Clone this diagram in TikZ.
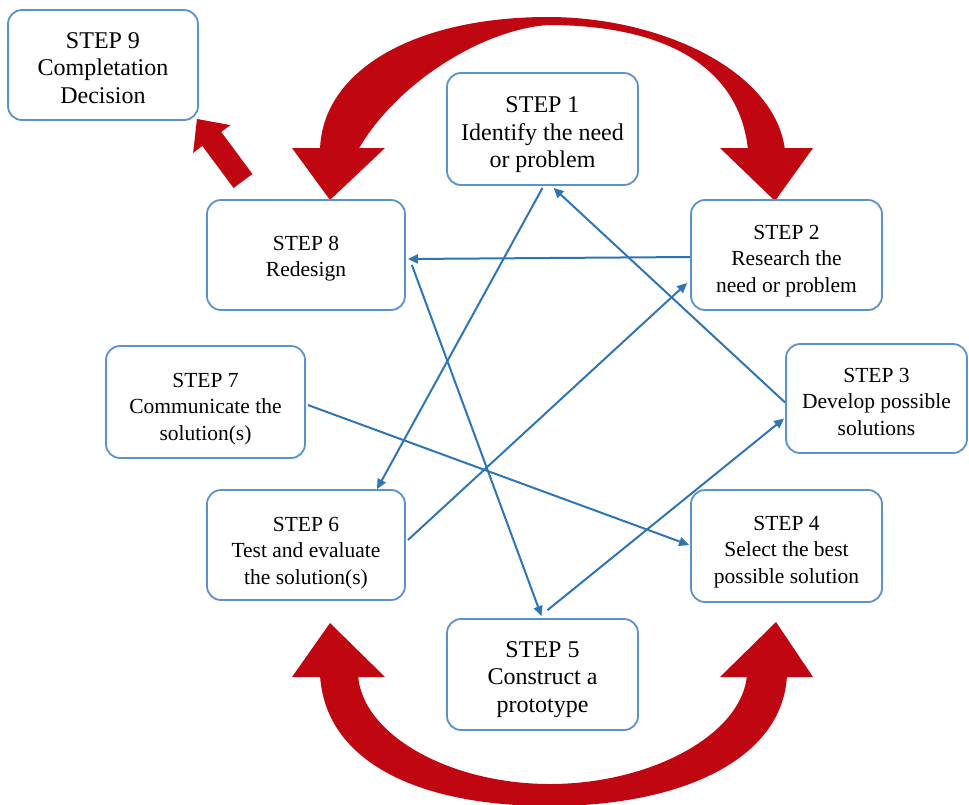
\documentclass[tikz,border=0pt]{standalone}
\usepackage{fontspec}
\setmainfont{Liberation Serif}
\usetikzlibrary{arrows.meta,calc}
\definecolor{boxblue}{RGB}{91,146,206}
\definecolor{arrblue}{RGB}{46,117,182}
\definecolor{redc}{RGB}{192,6,16}
\newcommand{\tup}[1]{\rule{0pt}{#1pt}}
\tikzset{
  stepbox/.style={rectangle, rounded corners=14pt, draw=boxblue, line width=1.8pt, fill=white,
    align=center, inner sep=0pt, font=\fontsize{21.5}{26.5}\selectfont},
  bigtext/.style={font=\fontsize{24}{27.5}\selectfont},
  link/.style={draw=arrblue, line width=2pt, -{Triangle[length=10pt,width=9pt]}},
}
\begin{document}
\begin{tikzpicture}[x=1pt,y=-1pt]
\useasboundingbox (0,0) rectangle (969,804);
\clip (0,0) rectangle (969,804);

% top red arc
\fill[redc] (320,150) .. controls (322,70) and (415,17) .. (548,17)
  .. controls (660,17) and (775,70) .. (785,150) -- (748,150)
  .. controls (740,70) and (670,25) .. (548,25)
  .. controls (480,30) and (395,85) .. (358,150) -- cycle;
\fill[redc] (292,148) -- (385,148) -- (330,200) -- cycle;
\fill[redc] (720,148) -- (813,148) -- (775,201) -- cycle;

% bottom red arc
\fill[redc] (320,675) .. controls (325,760) and (415,806) .. (550,806)
  .. controls (680,806) and (783,760) .. (787,675) -- (747,675)
  .. controls (742,735) and (650,784) .. (550,784)
  .. controls (450,784) and (362,735) .. (358,675) -- cycle;
\fill[redc] (292,677) -- (385,677) -- (330,623) -- cycle;
\fill[redc] (720,677) -- (813,677) -- (776,622) -- cycle;

% boxes
\node[stepbox, bigtext, minimum width=190pt, minimum height=110pt] (S9) at (103,65) {\tup{22}STEP 9\\Completation\\Decision};
\node[stepbox, bigtext, minimum width=191pt, minimum height=112pt] (S1) at (542.5,129) {\tup{28}STEP 1\\Identify the need\\or problem};
\node[stepbox, minimum width=198pt, minimum height=110pt] (S8) at (306,255) {\tup{22}STEP 8\\Redesign};
\node[stepbox, minimum width=191pt, minimum height=110pt] (S2) at (786.5,255) {\tup{26}STEP 2\\Research the\\need or problem};
\node[stepbox, minimum width=199pt, minimum height=112pt] (S7) at (205.5,402) {\tup{28}STEP 7\\Communicate the\\solution(s)};
\node[stepbox, minimum width=181pt, minimum height=109pt] (S3) at (876.5,398.5) {\tup{21}STEP 3\\Develop possible\\solutions};
\node[stepbox, minimum width=198pt, minimum height=110pt] (S6) at (306,545) {\tup{30}STEP 6\\Test and evaluate\\the solution(s)};
\node[stepbox, minimum width=191pt, minimum height=112pt] (S4) at (786.5,546) {\tup{26}STEP 4\\Select the best\\possible solution};
\node[stepbox, bigtext, minimum width=191pt, minimum height=111pt] (S5) at (542.5,674.5) {\tup{26}STEP 5\\Construct a\\prototype};

% small red arrow to step 9
\coordinate (r9) at (243,181);
\draw[redc, line width=23.5pt, -{Triangle[length=25pt,width=45pt]}] (r9) -- ($(S9.south east)+(-2,-2)$);

% blue connectors
\draw[link] ($(S2.west)+(0,2)$) -- ($(S8.east)+(2,4)$);
\draw[link] ($(S3.west)+(0,4)$) -- ($(S1.south)+(11,2)$);
\draw[link] ($(S1.south)+(0,2)$) -- ($(S6.north)+(71,0)$);
\draw[link] ($(S6.east)+(2,-5)$) -- ($(S2.west)+(-3,28)$);
\draw[link] ($(S8.east)+(6,10)$) -- ($(S5.north)+(-1,-2)$);
\draw[link] ($(S7.east)+(2,3)$) -- ($(S4.west)+(-1,-1)$);
\draw[link] ($(S5.north)+(5,-8)$) -- ($(S3.west)+(-1,20)$);
\end{tikzpicture}
\end{document}
